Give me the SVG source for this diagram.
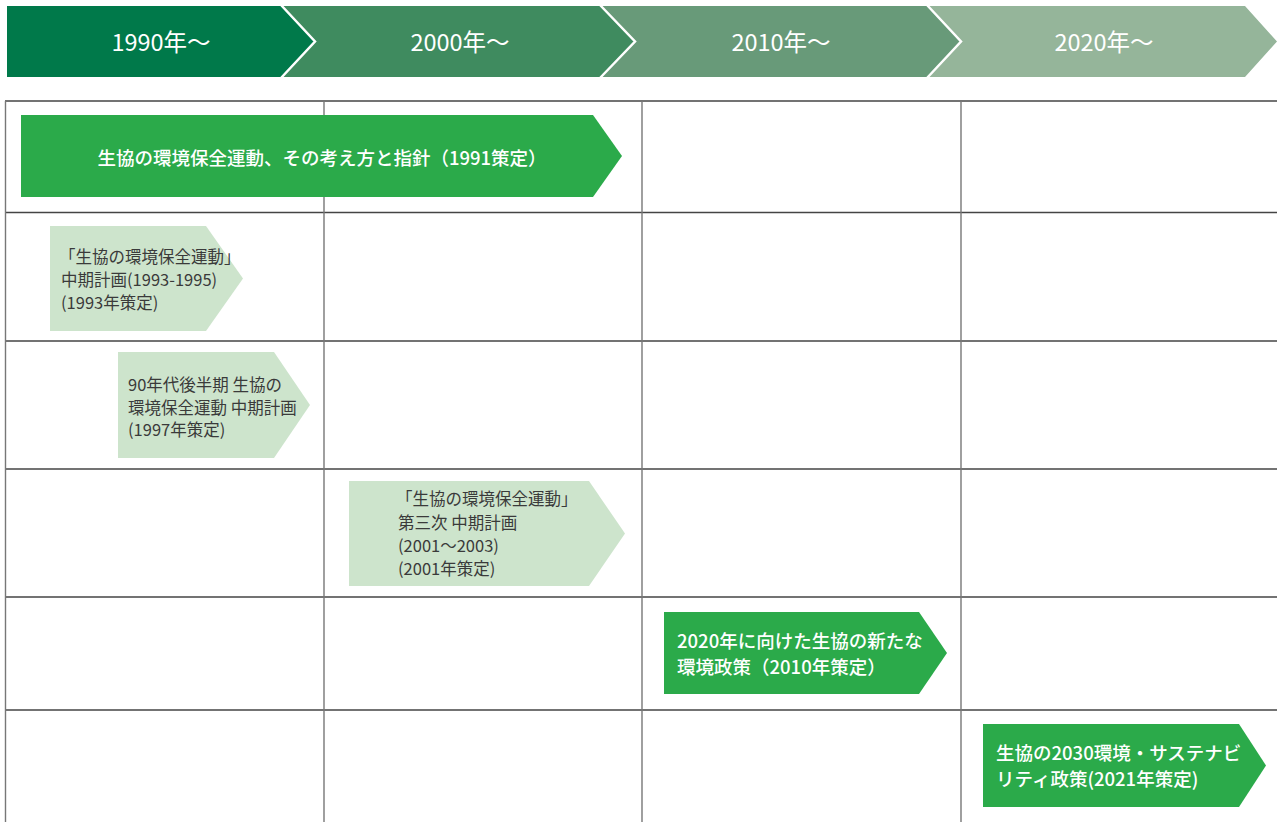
<svg xmlns="http://www.w3.org/2000/svg" width="1277" height="822" viewBox="0 0 1277 822">
<style>
.hd{font-family:"Noto Sans CJK JP","Noto Sans",sans-serif;font-size:23.5px;fill:#fff;text-anchor:middle;dominant-baseline:central}
.gt{font-family:"Noto Sans CJK JP","Noto Sans",sans-serif;font-size:18.5px;font-weight:500;fill:#fff;dominant-baseline:central}
.lt{font-family:"Noto Sans CJK JP","Noto Sans",sans-serif;font-size:16.5px;fill:#3a3a3a;dominant-baseline:central}
.g{fill:#2BAA4A}
.l{fill:#CDE4CC}
.hl{stroke:#444;stroke-width:1.4;fill:none}
.vl{stroke:#777;stroke-width:1.4;fill:none}
</style>
<rect width="1277" height="822" fill="#fff"/>
<g id="header">
<polygon points="7,6 281,6 315,41.5 281,77 7,77" fill="#00794A"/>
<polygon points="281,6 600,6 635,41.5 600,77 281,77 315,41.5" fill="#3F8B5F"/>
<polygon points="600,6 927,6 961,41.5 927,77 600,77 635,41.5" fill="#689A79"/>
<polygon points="927,6 1245,6 1277,41.5 1245,77 927,77 961,41.5" fill="#95B59A"/>
<g stroke="#fff" stroke-width="2.5" fill="none">
<polyline points="281,5 315,41.5 281,78"/>
<polyline points="600,5 635,41.5 600,78"/>
<polyline points="927,5 961,41.5 927,78"/>
</g>
<text class="hd" x="161" y="41">1990年〜</text>
<text class="hd" x="460" y="41">2000年〜</text>
<text class="hd" x="781" y="41">2010年〜</text>
<text class="hd" x="1104" y="41">2020年〜</text>
</g>
<g id="grid">
<line class="hl" x1="5" y1="101" x2="1277" y2="101"/>
<line class="hl" x1="5" y1="212.5" x2="1277" y2="212.5"/>
<line class="hl" x1="5" y1="341" x2="1277" y2="341"/>
<line class="hl" x1="5" y1="469" x2="1277" y2="469"/>
<line class="hl" x1="5" y1="597" x2="1277" y2="597"/>
<line class="hl" x1="5" y1="710" x2="1277" y2="710"/>
<line class="vl" x1="5.5" y1="101" x2="5.5" y2="822"/>
<line class="vl" x1="324" y1="101" x2="324" y2="822"/>
<line class="vl" x1="642" y1="101" x2="642" y2="822"/>
<line class="vl" x1="961" y1="101" x2="961" y2="822"/>
</g>
<g id="n1">
<polygon class="g" points="21,115 593,115 622,156 593,197 21,197"/>
<text class="gt" x="322" y="157" text-anchor="middle">生協の環境保全運動、その考え方と指針（1991策定）</text>
</g>
<g id="n2">
<polygon class="l" points="50,226 206,226 243,278.5 206,331 50,331"/>
<text class="lt" x="59" y="256">「生協の環境保全運動」</text>
<text class="lt" x="61" y="279">中期計画(1993-1995)</text>
<text class="lt" x="61" y="302">(1993年策定)</text>
</g>
<g id="n3">
<polygon class="l" points="118,352 274,352 310,405 274,458 118,458"/>
<text class="lt" x="128" y="384">90年代後半期 生協の</text>
<text class="lt" x="128" y="407">環境保全運動 中期計画</text>
<text class="lt" x="128" y="429">(1997年策定)</text>
</g>
<g id="n4">
<polygon class="l" points="349,481 589,481 625,533.5 589,586 349,586"/>
<text class="lt" x="396" y="498">「生協の環境保全運動」</text>
<text class="lt" x="398" y="522">第三次 中期計画</text>
<text class="lt" x="398" y="545">(2001〜2003)</text>
<text class="lt" x="398" y="568">(2001年策定)</text>
</g>
<g id="n5">
<polygon class="g" points="664,612 919,612 947,653 919,694 664,694"/>
<text class="gt" x="677" y="640">2020年に向けた生協の新たな</text>
<text class="gt" x="677" y="666">環境政策（2010年策定）</text>
</g>
<g id="n6">
<polygon class="g" points="983,724 1239,724 1266,765.5 1239,807 983,807"/>
<text class="gt" x="996" y="752">生協の2030環境・サステナビ</text>
<text class="gt" x="996" y="778">リティ政策(2021年策定)</text>
</g>
<g id="connectors"></g>
</svg>
